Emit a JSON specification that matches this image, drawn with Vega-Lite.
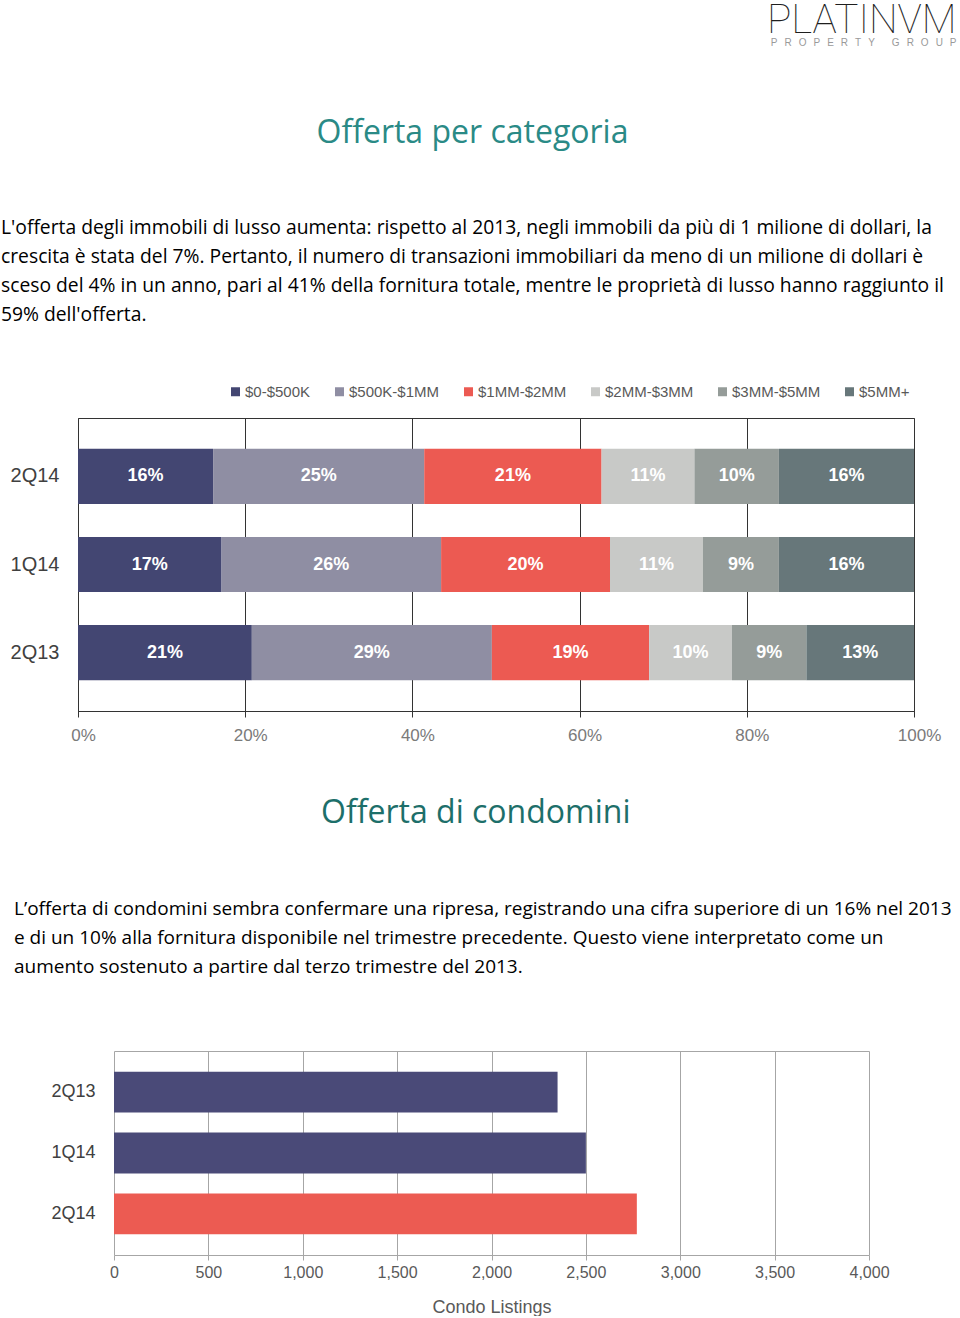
{
  "$schema": "https://vega.github.io/schema/vega-lite/v6.json",
  "background": "white",
  "padding": 0,
  "config": {
    "view": {"stroke": null},
    "font": "Liberation Sans",
    "concat": {"spacing": 53}
  },
  "title": {
    "text": "PLATINVM",
    "subtitle": "P\u2002\u2009R\u2002\u2009O\u2002\u2009P\u2002\u2009E\u2002\u2009R\u2002\u2009T\u2002\u2009Y\u2002\u2002\u2002\u2009G\u2002\u2009R\u2002\u2009O\u2002\u2009U\u2002\u2009P",
    "anchor": "end",
    "frame": "bounds",
    "font": "Roboto",
    "fontWeight": 100,
    "fontSize": 40.5,
    "color": "#1e1e1e",
    "subtitleFont": "Liberation Sans",
    "subtitleFontSize": 10,
    "subtitleColor": "#9a9a9a",
    "subtitlePadding": -3,
    "dx": 5,
    "offset": 69
  },
  "resolve": {
    "scale": {"color": "independent", "x": "independent", "y": "independent"},
    "legend": {"color": "independent"}
  },
  "vconcat": [
    {
      "title": {
        "text": "Offerta per categoria",
        "anchor": "middle",
        "font": "Open Sans",
        "fontSize": 32,
        "fontWeight": "normal",
        "color": "#2a8a86",
        "offset": 68
      },
      "vconcat": [
        {
          "title": {
            "text": [
              "L'offerta degli immobili di lusso aumenta: rispetto al 2013, negli immobili da più di 1 milione di dollari, la",
              "crescita è stata del 7%. Pertanto, il numero di transazioni immobiliari da meno di un milione di dollari è",
              "sceso del 4% in un anno, pari al 41% della fornitura totale, mentre le proprietà di lusso hanno raggiunto il",
              "59% dell'offerta."
            ],
            "anchor": "start",
            "frame": "group",
            "dx": -77,
            "font": "Open Sans",
            "fontSize": 19.3,
            "fontWeight": "normal",
            "color": "#000000",
            "lineHeight": 29,
            "offset": 93
          },
          "width": 836,
          "height": 293,
          "view": {"stroke": "#333333"},
          "data": {
            "values": [
              {"q": "2Q14", "cat": "$0-$500K", "k": 1, "v": 0.16},
              {"q": "2Q14", "cat": "$500K-$1MM", "k": 2, "v": 0.25},
              {"q": "2Q14", "cat": "$1MM-$2MM", "k": 3, "v": 0.21},
              {"q": "2Q14", "cat": "$2MM-$3MM", "k": 4, "v": 0.11},
              {"q": "2Q14", "cat": "$3MM-$5MM", "k": 5, "v": 0.10},
              {"q": "2Q14", "cat": "$5MM+", "k": 6, "v": 0.16},
              {"q": "1Q14", "cat": "$0-$500K", "k": 1, "v": 0.17},
              {"q": "1Q14", "cat": "$500K-$1MM", "k": 2, "v": 0.26},
              {"q": "1Q14", "cat": "$1MM-$2MM", "k": 3, "v": 0.20},
              {"q": "1Q14", "cat": "$2MM-$3MM", "k": 4, "v": 0.11},
              {"q": "1Q14", "cat": "$3MM-$5MM", "k": 5, "v": 0.09},
              {"q": "1Q14", "cat": "$5MM+", "k": 6, "v": 0.16},
              {"q": "2Q13", "cat": "$0-$500K", "k": 1, "v": 0.21},
              {"q": "2Q13", "cat": "$500K-$1MM", "k": 2, "v": 0.29},
              {"q": "2Q13", "cat": "$1MM-$2MM", "k": 3, "v": 0.19},
              {"q": "2Q13", "cat": "$2MM-$3MM", "k": 4, "v": 0.10},
              {"q": "2Q13", "cat": "$3MM-$5MM", "k": 5, "v": 0.09},
              {"q": "2Q13", "cat": "$5MM+", "k": 6, "v": 0.13}
            ]
          },
          "encoding": {
            "y": {
              "field": "q",
              "type": "nominal",
              "sort": ["2Q14", "1Q14", "2Q13"],
              "scale": {"paddingInner": 0.375, "paddingOuter": 0.35},
              "axis": {
                "title": null,
                "domain": false,
                "ticks": false,
                "labelPadding": 19,
                "labelFontSize": 20,
                "labelColor": "#404040",
                "minExtent": 77,
                "maxExtent": 77
              }
            },
            "order": {"field": "k", "type": "quantitative"}
          },
          "layer": [
            {
              "mark": {"type": "bar"},
              "encoding": {
                "x": {
                  "field": "v",
                  "type": "quantitative",
                  "stack": "normalize",
                  "scale": {"domain": [0, 1], "nice": false},
                  "axis": {
                    "title": null,
                    "format": ".0%",
                    "values": [0, 0.2, 0.4, 0.6, 0.8, 1],
                    "grid": true,
                    "gridColor": "#333333",
                    "gridOpacity": 1,
                    "domainColor": "#333333",
                    "tickColor": "#333333",
                    "tickSize": 6,
                    "labelPadding": 10,
                    "labelOffset": 5,
                    "labelFontSize": 17,
                    "labelColor": "#7a7a7a",
                    "labelFlush": false
                  }
                },
                "color": {
                  "field": "cat",
                  "type": "nominal",
                  "scale": {
                    "domain": ["$0-$500K", "$500K-$1MM", "$1MM-$2MM", "$2MM-$3MM", "$3MM-$5MM", "$5MM+"],
                    "range": ["#434672", "#8f8ea3", "#ec5a52", "#c8c9c7", "#959c99", "#67777a"]
                  },
                  "legend": {
                    "title": null,
                    "orient": "none",
                    "direction": "horizontal",
                    "legendX": 150,
                    "legendY": -34,
                    "symbolType": "square",
                    "symbolSize": 81,
                    "symbolStrokeWidth": 0,
                    "labelFontSize": 15,
                    "labelColor": "#595959",
                    "labelOffset": 2,
                    "columnPadding": 21
                  }
                }
              }
            },
            {
              "mark": {"type": "text", "color": "white", "fontWeight": "bold", "fontSize": 18},
              "encoding": {
                "x": {"field": "v", "type": "quantitative", "stack": "normalize", "bandPosition": 0.5},
                "text": {"field": "v", "type": "quantitative", "format": ".0%"}
              }
            }
          ]
        }
      ]
    },
    {
      "title": {
        "text": "Offerta di condomini",
        "anchor": "middle",
        "font": "Open Sans",
        "fontSize": 32,
        "fontWeight": "normal",
        "color": "#1d6f6a",
        "dx": -7,
        "offset": 70
      },
      "vconcat": [
        {
          "title": {
            "text": [
              "L’offerta di condomini sembra confermare una ripresa, registrando una cifra superiore di un 16% nel 2013",
              "e di un 10% alla fornitura disponibile nel trimestre precedente. Questo viene interpretato come un",
              "aumento sostenuto a partire dal terzo trimestre del 2013."
            ],
            "anchor": "start",
            "frame": "group",
            "dx": -64,
            "font": "Open Sans",
            "fontSize": 19,
            "fontWeight": "normal",
            "color": "#000000",
            "lineHeight": 29,
            "offset": 74
          },
          "width": 791,
          "height": 204,
          "data": {
            "values": [
              {"q": "2Q13", "listings": 2350},
              {"q": "1Q14", "listings": 2500},
              {"q": "2Q14", "listings": 2770}
            ]
          },
          "encoding": {
            "y": {
              "field": "q",
              "type": "nominal",
              "sort": ["2Q13", "1Q14", "2Q14"],
              "scale": {"paddingInner": 0.33, "paddingOuter": 0.34},
              "axis": {
                "title": null,
                "domain": false,
                "ticks": false,
                "offset": -36,
                "labelPadding": 19,
                "labelFontSize": 18,
                "labelColor": "#404040"
              }
            }
          },
          "layer": [
            {
              "mark": {"type": "bar"},
              "encoding": {
                "x": {
                  "field": "listings",
                  "type": "quantitative",
                  "scale": {"domain": [0, 4000], "nice": false, "range": [36, 791]},
                  "axis": {
                    "title": "Condo Listings",
                    "titleFontSize": 18,
                    "titleFontWeight": "normal",
                    "titleColor": "#595959",
                    "titlePadding": 18,
                    "format": ",d",
                    "values": [0, 500, 1000, 1500, 2000, 2500, 3000, 3500, 4000],
                    "grid": true,
                    "gridColor": "#a6a6a6",
                    "gridOpacity": 1,
                    "domainColor": "#a6a6a6",
                    "tickColor": "#a6a6a6",
                    "tickSize": 5,
                    "labelPadding": 4,
                    "labelFontSize": 16,
                    "labelColor": "#595959",
                    "labelFlush": false
                  }
                },
                "color": {
                  "field": "q",
                  "type": "nominal",
                  "scale": {"domain": ["2Q13", "1Q14", "2Q14"], "range": ["#4a4a78", "#4a4a78", "#ec5b52"]},
                  "legend": null
                }
              }
            },
            {
              "mark": {"type": "bar", "opacity": 0},
              "encoding": {
                "x": {
                  "field": "listings",
                  "type": "quantitative",
                  "axis": {
                    "orient": "top",
                    "title": null,
                    "labels": false,
                    "ticks": false,
                    "grid": false,
                    "domainColor": "#a6a6a6"
                  }
                }
              }
            }
          ],
          "resolve": {"axis": {"x": "independent"}}
        }
      ]
    }
  ]
}
